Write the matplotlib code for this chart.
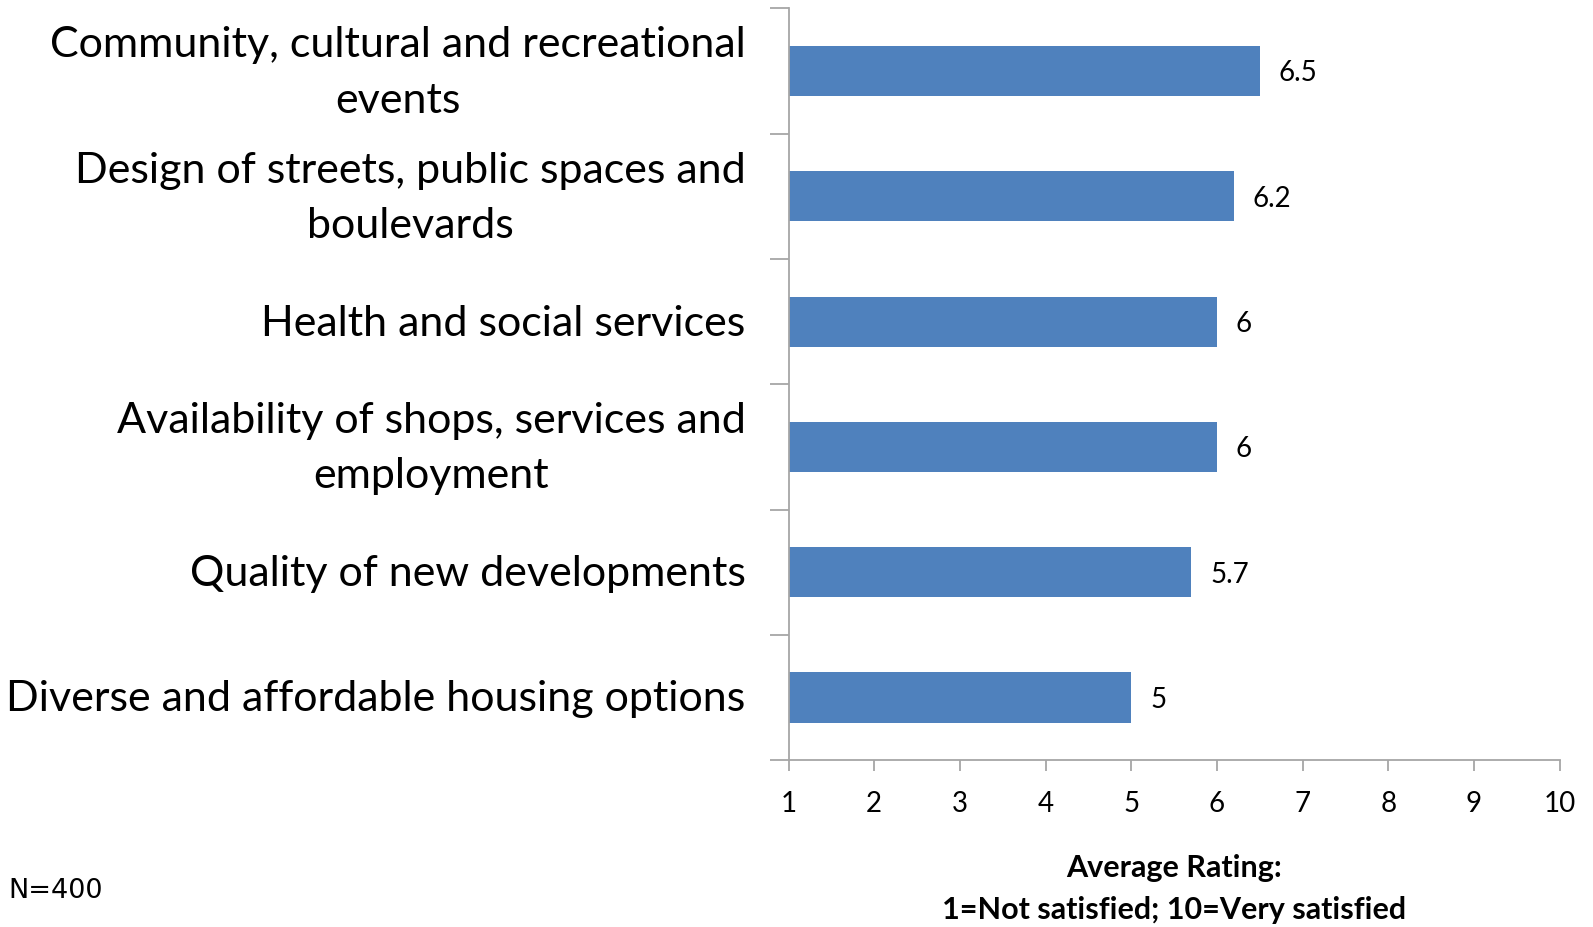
import numpy as np
import matplotlib.pyplot as plt
import matplotlib.transforms as mtransforms
from matplotlib.ticker import FixedLocator

categorias = ['Community, cultural and recreational\nevents',
              'Design of streets, public spaces and\nboulevards',
              'Health and social services',
              'Availability of shops, services and\nemployment',
              'Quality of new developments',
              'Diverse and affordable housing options']
valores = [6.5, 6.2, 6.0, 6.0, 5.7, 5.0]
etiquetas = ['6.5', '6.2', '6', '6', '5.7', '5']
xticks = list(range(1, 11))

plt.rcParams['font.family'] = ['Lato', 'DejaVu Sans']
gris = '#a6a6a6'

fig = plt.figure(figsize=(15.93, 9.27), dpi=100)
ax = fig.add_axes([0.495, 0.180, 0.484, 0.811])

y = np.arange(len(categorias))
ax.barh(y, np.array(valores) - 1, left=1, height=0.4, color='#4f81bd')
for yi, v, t in zip(y, valores, etiquetas):
    ax.text(v + 0.22, yi + 0.02, t, va='center', ha='left', fontsize=20)

ax.set_xlim(1, 10)
ax.set_ylim(len(categorias) - 0.5, -0.5)
ax.set_xticks(xticks)
ax.set_xticklabels([str(t) for t in xticks], fontsize=20)
ax.set_yticks(y)
ax.set_yticklabels([])

# etiquetas de categoría a mano, centradas en cada barra
trans = mtransforms.blended_transform_factory(ax.transAxes, ax.transData)
tr = mtransforms.offset_copy(trans, fig=fig, x=-43, y=-2, units='dots')
for yi, cat in zip(y, categorias):
    ax.text(0, yi, cat, transform=tr, ha='right', va='center',
            fontsize=31, multialignment='center', linespacing=1.55)

ax.yaxis.set_minor_locator(FixedLocator(np.arange(-0.5, len(categorias), 1)))
ax.tick_params(axis='y', which='major', length=0)
ax.tick_params(axis='y', which='minor', length=14, color=gris, width=1.3)
ax.tick_params(axis='x', length=8, color=gris, width=1.3, pad=14)

for s in ['top', 'right']:
    ax.spines[s].set_visible(False)
for s in ['left', 'bottom']:
    ax.spines[s].set_color(gris)
    ax.spines[s].set_linewidth(1.3)

ax.set_xlabel('Average Rating:\n1=Not satisfied; 10=Very satisfied',
              fontsize=22, fontweight='bold', labelpad=27, linespacing=1.6)
fig.text(0.005, 0.031, 'N=400', fontsize=19.5, family='DejaVu Sans')

plt.savefig('out.png', dpi=100)
plt.close()
